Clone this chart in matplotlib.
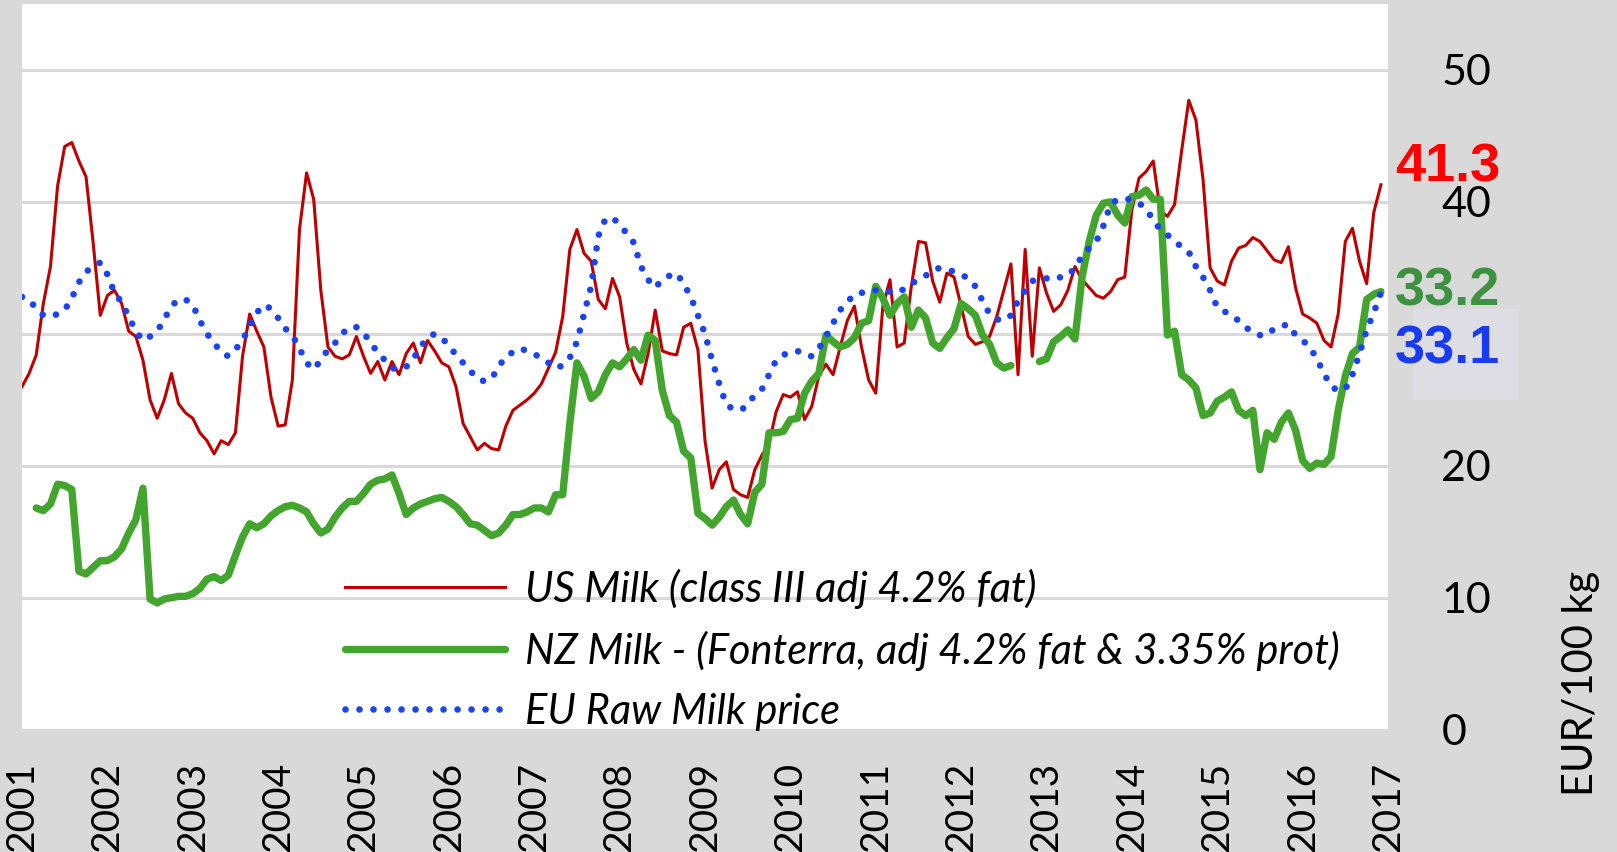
import numpy as np
import matplotlib
matplotlib.use('Agg')
import matplotlib.pyplot as plt
from matplotlib.patches import Rectangle

nan = float('nan')
years = list(range(2001, 2018))

us_milk = [
    26.0, 27.0, 28.4, 32.3, 35.1, 41.2, 44.2, 44.5, 43.1, 41.9, 36.9, 31.4,   # 2001
    32.9, 33.3, 32.3, 30.2, 29.8, 28.0, 25.0, 23.6, 25.0, 27.0, 24.7, 24.0,   # 2002
    23.6, 22.5, 21.9, 20.9, 21.9, 21.6, 22.5, 28.3, 31.5, 30.2, 29.0, 25.2,   # 2003
    23.0, 23.1, 26.5, 37.9, 42.2, 40.2, 33.3, 29.0, 28.3, 28.1, 28.4, 29.8,   # 2004
    28.3, 27.0, 27.9, 26.5, 27.9, 26.9, 28.5, 29.3, 27.8, 29.5, 28.7, 27.8,   # 2005
    27.5, 26.0, 23.2, 22.2, 21.2, 21.7, 21.3, 21.2, 23.0, 24.2, 24.6, 25.0,   # 2006
    25.5, 26.2, 27.4, 28.6, 31.3, 36.4, 37.9, 36.1, 35.5, 32.6, 31.9, 34.2,   # 2007
    32.8, 29.3, 27.3, 26.2, 28.5, 31.8, 28.7, 28.5, 28.4, 30.5, 30.8, 28.8,   # 2008
    21.9, 18.3, 19.7, 20.3, 18.2, 17.8, 17.6, 19.7, 20.8, 21.7, 24.1, 25.4,   # 2009
    25.2, 25.6, 23.5, 24.5, 26.8, 27.7, 26.9, 29.0, 31.0, 32.1, 29.0, 26.5,   # 2010
    25.5, 32.1, 34.1, 29.0, 29.3, 33.6, 37.0, 36.9, 34.0, 32.4, 34.6, 34.3,   # 2011
    32.1, 29.8, 29.2, 29.4, 29.8, 31.3, 33.3, 35.3, 26.9, 36.4, 28.3, 35.0,   # 2012
    33.1, 31.7, 32.2, 33.3, 35.1, 34.1, 33.5, 32.9, 32.7, 33.2, 34.1, 34.3,   # 2013
    39.4, 41.8, 42.3, 43.1, 39.3, 38.9, 39.8, 43.9, 47.7, 46.2, 41.7, 35.0,   # 2014
    34.0, 33.7, 35.5, 36.5, 36.7, 37.3, 37.0, 36.3, 35.6, 35.4, 36.6, 33.5,   # 2015
    31.5, 31.2, 30.8, 29.5, 29.0, 31.5, 37.0, 38.0, 35.5, 33.8, 39.2, 41.3,   # 2016
]

nz_milk = [
    nan, nan, 16.8, 16.6, 17.1, 18.6, 18.5, 18.2, 12.0, 11.8, 12.3, 12.8,     # 2001
    12.8, 13.1, 13.7, 14.9, 15.9, 18.3, 9.9, 9.6, 9.9, 10.0, 10.1, 10.1,      # 2002
    10.3, 10.7, 11.4, 11.6, 11.3, 11.7, 13.2, 14.6, 15.6, 15.3, 15.6, 16.2,   # 2003
    16.6, 16.9, 17.0, 16.8, 16.5, 15.6, 14.9, 15.2, 16.1, 16.8, 17.3, 17.3,   # 2004
    17.9, 18.6, 18.9, 19.0, 19.3, 17.9, 16.3, 16.8, 17.1, 17.3, 17.5, 17.6,   # 2005
    17.3, 16.9, 16.3, 15.6, 15.5, 15.1, 14.7, 14.9, 15.5, 16.3, 16.3, 16.5,   # 2006
    16.8, 16.8, 16.5, 17.8, 17.8, 23.2, 27.8, 26.8, 25.1, 25.6, 26.9, 27.8,   # 2007
    27.5, 28.1, 28.8, 28.0, 29.9, 29.5, 25.7, 23.8, 23.3, 21.1, 20.6, 16.4,   # 2008
    16.0, 15.5, 16.1, 16.9, 17.4, 16.3, 15.6, 18.0, 18.6, 22.5, 22.5, 22.6,   # 2009
    23.5, 23.6, 25.5, 26.4, 27.0, 29.9, 29.4, 29.0, 29.2, 29.7, 30.8, 31.0,   # 2010
    33.6, 32.7, 31.4, 32.3, 32.8, 30.5, 31.8, 31.2, 29.3, 28.9, 29.7, 30.4,   # 2011
    32.3, 31.9, 31.4, 29.9, 29.2, 27.8, 27.4, 27.6, nan, nan, nan, 27.9,      # 2012
    28.1, 29.4, 29.8, 30.3, 29.6, 34.3, 37.0, 39.0, 39.9, 40.0, 39.0, 38.4,   # 2013
    40.4, 40.5, 40.9, 40.2, 40.2, 29.9, 30.2, 26.9, 26.5, 25.9, 23.8, 24.0,   # 2014
    24.9, 25.2, 25.6, 24.2, 23.8, 24.2, 19.7, 22.5, 22.0, 23.3, 24.0, 22.7,   # 2015
    20.4, 19.8, 20.2, 20.1, 20.7, 24.2, 26.8, 28.5, 29.0, 32.6, 33.0, 33.2,   # 2016
]

eu_milk = [
    32.8, 32.6, 31.9, 31.4, 31.3, 31.5, 31.8, 32.7, 33.9, 34.7, 35.1, 35.4,   # 2001
    34.5, 33.1, 32.4, 31.3, 30.2, 29.5, 29.8, 30.2, 31.1, 32.1, 32.6, 32.6,   # 2002
    32.2, 31.0, 30.0, 29.3, 28.6, 28.3, 28.8, 29.5, 30.6, 31.6, 32.2, 31.9,   # 2003
    31.2, 30.4, 29.9, 28.9, 27.8, 27.3, 28.0, 28.8, 29.3, 30.0, 30.5, 30.5,   # 2004
    30.1, 29.3, 28.6, 28.0, 27.4, 27.3, 27.5, 28.1, 29.0, 29.7, 30.0, 29.7,   # 2005
    29.1, 28.4, 27.8, 27.2, 26.6, 26.4, 26.6, 27.5, 28.3, 28.6, 28.9, 28.7,   # 2006
    28.5, 28.1, 27.8, 27.4, 27.6, 28.2, 29.4, 31.5, 33.6, 37.4, 38.7, 38.8,   # 2007
    38.3, 37.6, 36.9, 35.1, 34.1, 33.5, 34.1, 34.4, 34.6, 33.8, 32.8, 31.4,   # 2008
    30.0, 28.0, 26.2, 24.6, 24.3, 24.2, 24.6, 25.4, 25.8, 26.9, 28.0, 28.4,   # 2009
    28.6, 28.7, 28.4, 28.3, 28.9, 29.8, 30.8, 31.8, 32.4, 33.0, 33.1, 33.3,   # 2010
    33.3, 33.3, 33.2, 33.1, 33.4, 33.8, 34.1, 34.4, 34.8, 35.0, 34.9, 34.7,   # 2011
    34.5, 34.2, 33.6, 32.5, 31.5, 31.1, 31.0, 31.4, 32.5, 33.3, 34.0, 34.2,   # 2012
    34.2, 34.1, 34.3, 34.4, 35.0, 35.9, 36.5, 37.0, 38.2, 39.8, 40.2, 40.2,   # 2013
    40.2, 39.9, 39.5, 38.6, 37.9, 37.5, 37.0, 36.6, 36.2, 35.1, 34.3, 33.3,   # 2014
    32.0, 31.7, 31.4, 31.0, 30.5, 30.1, 29.9, 29.9, 30.4, 30.6, 30.7, 29.9,   # 2015
    29.5, 29.0, 28.1, 27.0, 26.0, 25.7, 25.8, 26.9, 28.5, 30.3, 31.6, 33.1,   # 2016
]

series_labels = ['US Milk (class III adj 4.2% fat)',
                 'NZ Milk - (Fonterra, adj 4.2% fat & 3.35% prot)',
                 'EU Raw Milk price']
last_labels = ['41.3', '33.2', '33.1']
y_ticks = [0, 10, 20, 30, 40, 50]
# the "30" label is hidden behind the value-label box in the original
y_tick_labels = ['0', '10', '20', '', '40', '50']

months = 2001 + np.arange(len(us_milk)) / 12.0

W, H = 1617, 852
fig = plt.figure(figsize=(W / 100, H / 100), dpi=100, facecolor='#d9d9d9')
ax = fig.add_axes([22 / W, (H - 729.6) / H, 1366 / W, 725.6 / H])
ax.set_facecolor('white')
ax.set_xlim(2001, 2017)
ax.set_ylim(0, 55)
for s in ax.spines.values():
    s.set_visible(False)

ax.yaxis.tick_right()
ax.set_yticks(y_ticks)
ax.set_yticklabels(y_tick_labels, family='Lato')
ax.set_xticks(years)
ax.set_xticklabels([str(y) for y in years], rotation=90, family='Lato')
ax.tick_params(axis='x', length=0, pad=23.4, labelsize=28, colors='black')
ax.tick_params(axis='y', length=0, pad=38.5, labelsize=31, colors='black')
ax.grid(axis='y', color='#d9d9d9', lw=2.2)
ax.grid(axis='x', visible=False)
ax.set_axisbelow(True)

ax.plot(months, us_milk, color='#C00000', lw=2.2, solid_joinstyle='round',
        label=series_labels[0], zorder=3)
ax.plot(months, nz_milk, color='#43A52D', lw=5.3, solid_capstyle='round',
        solid_joinstyle='round', label=series_labels[1], zorder=4)
ax.plot(months, eu_milk, color='#1A44F0', lw=4.8, linestyle=(0, (0.001, 2.1)),
        dash_capstyle='round', label=series_labels[2], zorder=5)

leg = ax.legend(loc='upper left', bbox_to_anchor=((345 - 22) / 1366, 0.222),
                frameon=False, borderpad=0, borderaxespad=0,
                handlelength=3.83, handletextpad=0.5, labelspacing=0.53,
                prop={'family': 'Lato', 'style': 'italic', 'size': 30})

# light box behind the EU value label
fig.patches.append(Rectangle((1413 / W, 1 - 400 / H), 105 / W, 91 / H,
                             transform=fig.transFigure, facecolor='#dedde3',
                             edgecolor='none', zorder=2))

label_colors = ['#FF0000', '#3F9142', '#1A3CF0']
label_baselines = [181, 305, 363]
for txt, c, yb in zip(last_labels, label_colors, label_baselines):
    fig.text(1395 / W, 1 - yb / H, txt, color=c, fontsize=39, fontweight='bold',
             family='Liberation Sans', ha='left', va='baseline', zorder=3)

fig.text(1581 / W, 1 - 683 / H, 'EUR/100 kg', rotation=90, ha='center',
         va='center', fontsize=30, family='Lato', color='black')

fig.savefig('out.png', dpi=100, facecolor=fig.get_facecolor())
